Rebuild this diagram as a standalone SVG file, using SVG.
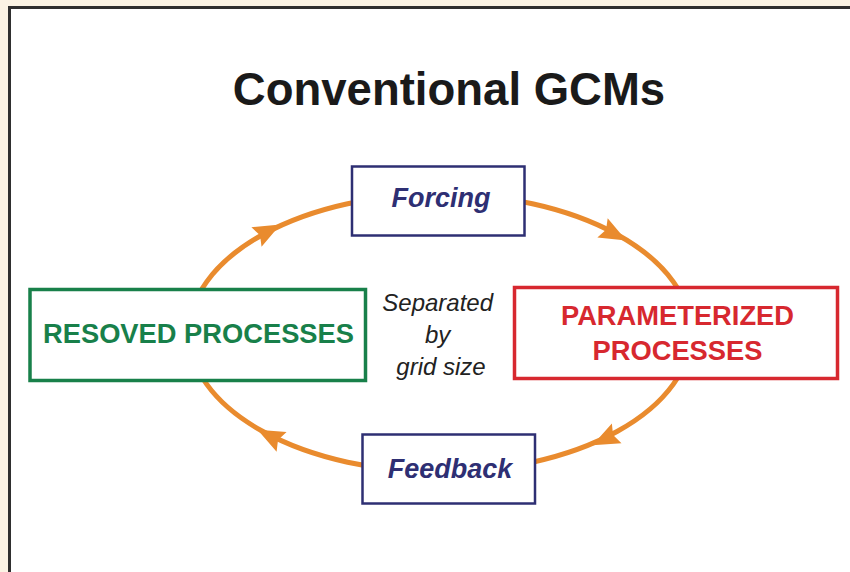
<svg xmlns="http://www.w3.org/2000/svg" width="850" height="572" viewBox="0 0 850 572">
  <defs>
    <style>
      .box { fill: #ffffff; }
      .navy { stroke: #2E2F73; stroke-width: 2.5; }
      .lbl { font-family: "Liberation Sans", Arial, sans-serif; font-weight: bold; text-anchor: middle; }
      .nav { fill: #2E2F73; font-style: italic; font-size: 27px; }
      .big { font-size: 27.3px; }
      .arrow { fill: #E98B2E; }
    </style>
    <polygon id="ah" points="14,0 -13,-11 -9,0 -13,11"/>
  </defs>
  <rect x="0" y="0" width="850" height="572" fill="#FBF3E4"/>
  <rect x="9.5" y="7.5" width="860" height="600" fill="#ffffff" stroke="#2f2f2f" stroke-width="3"/>
  <text x="449" y="105" font-family="Liberation Sans, Arial, sans-serif" font-weight="bold" font-size="45.5" fill="#1a1a1a" text-anchor="middle">Conventional GCMs</text>

  <g id="connectors">
    <ellipse cx="440" cy="333" rx="251" ry="139" fill="none" stroke="#E98B2E" stroke-width="5"/>
    <use href="#ah" class="arrow" transform="translate(268,231) rotate(-27.5)"/>
    <use href="#ah" class="arrow" transform="translate(614,234) rotate(28)"/>
    <use href="#ah" class="arrow" transform="translate(605,439) rotate(154)"/>
    <use href="#ah" class="arrow" transform="translate(270,436) rotate(207)"/>
  </g>

  <g id="forcing">
    <rect class="box navy" x="352" y="166.5" width="172.5" height="69"/>
    <text class="lbl nav" x="441" y="207">Forcing</text>
  </g>
  <g id="feedback">
    <rect class="box navy" x="362.5" y="434.5" width="172.5" height="69"/>
    <text class="lbl nav" x="450" y="478">Feedback</text>
  </g>
  <g id="resolved">
    <rect class="box" x="30" y="289.5" width="335.5" height="91" stroke="#18804A" stroke-width="3.5"/>
    <text class="lbl big" x="198.5" y="343" fill="#18804A">RESOVED PROCESSES</text>
  </g>
  <g id="parameterized">
    <rect class="box" x="514.5" y="287.5" width="323" height="91" stroke="#D7282F" stroke-width="3.5"/>
    <text class="lbl big" x="677.5" y="325" fill="#D7282F">PARAMETERIZED</text>
    <text class="lbl big" x="677.5" y="360" fill="#D7282F">PROCESSES</text>
  </g>
  <g id="separated">
    <text font-family="Liberation Sans, Arial, sans-serif" font-style="italic" font-size="24" fill="#222222" text-anchor="middle">
      <tspan x="441" y="311">Separated</tspan>
      <tspan x="441" y="343">by</tspan>
      <tspan x="441" y="375">grid size</tspan>
    </text>
  </g>
</svg>
